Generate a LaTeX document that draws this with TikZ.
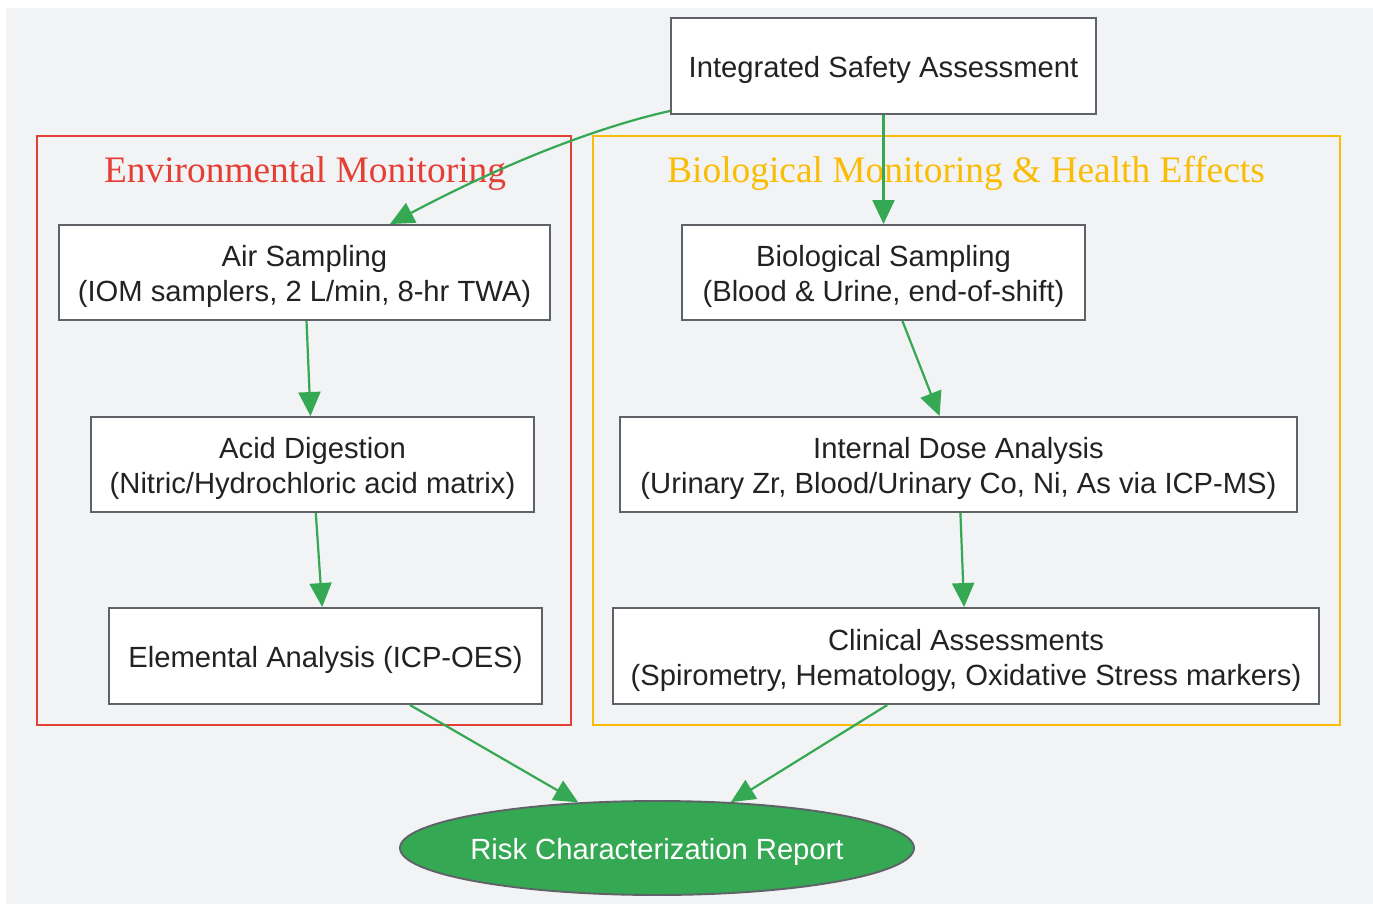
\documentclass[tikz,border=0pt]{standalone}
\usepackage{fontspec}
\setmainfont{Liberation Serif}
\setsansfont{Liberation Sans}
\usetikzlibrary{arrows.meta,shapes.geometric}
\definecolor{bgc}{HTML}{F2F3F5}
\definecolor{boxline}{HTML}{5F6368}
\definecolor{txt}{HTML}{222222}
\definecolor{envred}{HTML}{E53E35}
\definecolor{bioyel}{HTML}{FBBC04}
\definecolor{edgegreen}{HTML}{34A853}
\newcommand{\mystrut}{\rule{0pt}{29.5pt}}
\tikzset{
  box/.style={draw=boxline, line width=1.9pt, fill=white, rectangle, inner sep=0pt,
    align=center, text=txt, font=\sffamily\fontsize{29.2}{35}\selectfont},
  cluster/.style={line width=1.8pt},
  ctitle/.style={anchor=base, font=\rmfamily\fontsize{37.4}{44}\selectfont},
  edge/.style={draw=edgegreen, line width=2.2pt, -{Triangle[length=24pt,width=22pt]}}
}
\begin{document}
\begin{tikzpicture}[x=1pt,y=-1pt]
\useasboundingbox (0,0) rectangle (1373,904);
\fill[bgc] (6,8) rectangle (1373,904);
% clusters
\draw[cluster, envred] (37,136) rectangle (571,725);
\draw[cluster, bioyel] (593,136) rectangle (1340,725);
\node[ctitle, text=envred] (envt) at (305,183) {Environmental Monitoring};
\node[ctitle, text=bioyel] (biot) at (966,183) {Biological Monitoring \& Health Effects};
% nodes
\node[box, minimum width=425pt, minimum height=96pt] (top) at (883.5,66) {\mystrut Integrated Safety Assessment};
\node[box, minimum width=491pt, minimum height=95pt] (air) at (304.5,272.5) {\mystrut Air Sampling\\(IOM samplers, 2 L/min, 8-hr TWA)};
\node[box, minimum width=443pt, minimum height=95pt] (acid) at (312.5,464.5) {\mystrut Acid Digestion\\(Nitric/Hydrochloric acid matrix)};
\node[box, minimum width=433pt, minimum height=96pt] (elem) at (325.5,656) {\mystrut Elemental Analysis (ICP-OES)};
\node[box, minimum width=403pt, minimum height=95pt] (bios) at (883.5,272.5) {\mystrut Biological Sampling\\(Blood \& Urine, end-of-shift)};
\node[box, minimum width=677pt, minimum height=95pt] (idose) at (958.5,464.5) {\mystrut Internal Dose Analysis\\(Urinary Zr, Blood/Urinary Co, Ni, As via ICP-MS)};
\node[box, minimum width=706pt, minimum height=96pt] (clin) at (966,656) {\mystrut Clinical Assessments\\(Spirometry, Hematology, Oxidative Stress markers)};
\node[box, ellipse, inner xsep=-6pt, fill=edgegreen, text=white, minimum width=514pt, minimum height=94pt] (risk) at (657,848) {\mystrut Risk Characterization Report};
% edges
\coordinate (s1) at ([yshift=4pt]top.south west);
\coordinate (e1) at ([xshift=85.5pt]air.north);
\draw[edge] (s1) .. controls (620,122) and (530,150) .. (e1);
\draw[edge] (top) -- (bios);
\draw[edge] (air) -- (acid);
\draw[edge] (acid) -- (elem);
\draw[edge] (bios) -- (idose);
\draw[edge] (idose) -- (clin);
\draw[edge] (elem) -- (risk);
\draw[edge] (clin) -- (risk);
\end{tikzpicture}
\end{document}
